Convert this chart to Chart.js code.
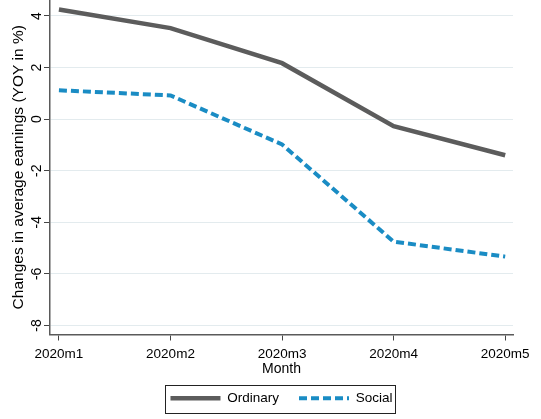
<!DOCTYPE html>
<html>
<head>
<meta charset="utf-8">
<script src="https://cdn.jsdelivr.net/npm/chart.js@4"></script>
<style>
  html, body { margin: 0; padding: 0; background: #fff; }
  #wrap { width: 541px; height: 419px; }
</style>
</head>
<body>
<div id="wrap"><canvas id="c" width="541" height="419"></canvas></div>
<script>
const months = ['2020m1', '2020m2', '2020m3', '2020m4', '2020m5'];
const ordinary = [4.25, 3.53, 2.17, -0.27, -1.4];
const social = [1.12, 0.92, -0.98, -4.75, -5.33];
const yTicks = [-8, -6, -4, -2, 0, 2, 4];

Chart.defaults.font.family = '"Liberation Sans", Arial, sans-serif';
Chart.defaults.font.size = 13;
Chart.defaults.color = '#000';

// stata-style frame round the legend
const legendBox = {
    id: 'legendBox',
    afterDraw(chart) {
        const boxes = chart.legend.legendHitBoxes;
        if (!boxes || !boxes.length) return;
        let x0 = Infinity, x1 = -Infinity, y0 = Infinity, y1 = -Infinity;
        boxes.forEach(b => {
            x0 = Math.min(x0, b.left); x1 = Math.max(x1, b.left + b.width);
            y0 = Math.min(y0, b.top); y1 = Math.max(y1, b.top + b.height);
        });
        const ctx = chart.ctx;
        ctx.save();
        ctx.strokeStyle = '#222';
        ctx.lineWidth = 1;
        ctx.strokeRect(Math.round(x0 - 5) + 0.5, Math.round(y0 - 7) + 0.5, Math.round(x1 - x0 + 8), Math.round(y1 - y0 + 14));
        ctx.restore();
    }
};

new Chart(document.getElementById('c'), {
    type: 'line',
    data: {
        datasets: [
            {
                label: 'Ordinary',
                data: ordinary.map((v, i) => ({x: i + 1, y: v})),
                borderColor: '#5c5c5c',
                backgroundColor: '#5c5c5c',
                borderWidth: 4.5,
                pointRadius: 0,
                tension: 0
            },
            {
                label: 'Social',
                data: social.map((v, i) => ({x: i + 1, y: v})),
                borderColor: '#1a8cc4',
                backgroundColor: '#1a8cc4',
                borderWidth: 4,
                borderDash: [8, 4],
                pointRadius: 0,
                tension: 0
            }
        ]
    },
    options: {
        responsive: false,
        animation: false,
        layout: { padding: { top: 0, right: 28, left: 0, bottom: 4 } },
        plugins: {
            legend: {
                position: 'bottom',
                fullSize: false,
                labels: {
                    usePointStyle: true,
                    pointStyle: 'line',
                    pointStyleWidth: 50,
                    boxHeight: 14,
                    padding: 20,
                    color: '#000',
                    font: { size: 13.5 },
                    generateLabels(chart) {
                        return chart.data.datasets.map((ds, i) => ({
                            text: ds.label,
                            strokeStyle: ds.borderColor,
                            fillStyle: ds.borderColor,
                            lineWidth: ds.borderWidth,
                            lineDash: ds.borderDash || [],
                            pointStyle: 'line',
                            datasetIndex: i
                        }));
                    }
                }
            },
            tooltip: { enabled: false }
        },
        scales: {
            x: {
                type: 'linear',
                min: 0.92,
                max: 5.07,
                afterBuildTicks(scale) {
                    scale.ticks = months.map((m, i) => ({value: i + 1}));
                },
                afterFit(scale) {
                    scale.paddingLeft = 0;
                    scale.paddingRight = 0;
                    scale.height = 37;
                },
                ticks: {
                    callback: (v) => months[v - 1],
                    maxRotation: 0,
                    minRotation: 0,
                    padding: 6,
                    color: '#000',
                    font: { size: 13.5 }
                },
                grid: {
                    drawOnChartArea: false,
                    tickLength: 6,
                    tickColor: '#444',
                    tickWidth: 1
                },
                border: { color: '#5a5a5a', width: 1.5 },
                title: {
                    display: true,
                    text: 'Month',
                    color: '#000',
                    font: { size: 14 },
                    padding: { top: 0, bottom: -6 }
                }
            },
            y: {
                min: -8.35,
                max: 4.62,
                afterBuildTicks(scale) {
                    scale.ticks = yTicks.map(v => ({value: v}));
                },
                afterFit(scale) {
                    scale.width = 50;
                    scale.paddingTop = 0;
                    scale.paddingBottom = 0;
                },
                ticks: {
                    minRotation: 90,
                    maxRotation: 90,
                    crossAlign: 'center',
                    padding: 1,
                    color: '#000',
                    font: { size: 14 }
                },
                grid: {
                    color: '#e3ebee',
                    lineWidth: 1,
                    tickLength: 6,
                    tickColor: '#444',
                    tickWidth: 1
                },
                border: { color: '#5a5a5a', width: 1.5 },
                title: {
                    display: true,
                    text: 'Changes in average earnings (YOY in %)',
                    color: '#000',
                    font: { size: 15.5 },
                    padding: { top: 9, bottom: 0 }
                }
            }
        }
    },
    plugins: [legendBox]
});
</script>
</body>
</html>
